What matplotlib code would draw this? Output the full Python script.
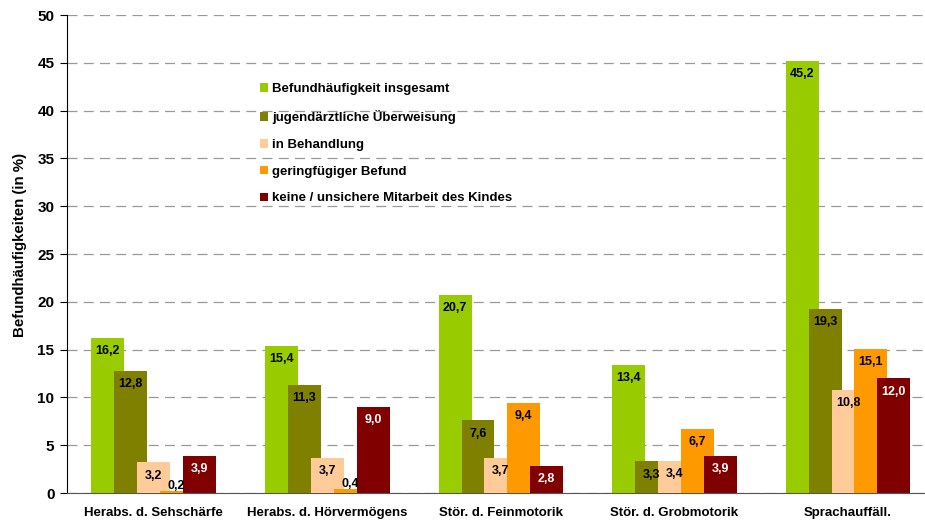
import matplotlib.pyplot as plt
import numpy as np
from matplotlib.patches import Patch

plt.rcParams['font.family'] = ['Liberation Sans', 'DejaVu Sans']

# Daten
kategorien = ['Herabs. d. Sehschärfe', 'Herabs. d. Hörvermögens', 'Stör. d. Feinmotorik',
              'Stör. d. Grobmotorik', 'Sprachauffäll.']
serien = ['Befundhäufigkeit insgesamt', 'jugendärztliche Überweisung', 'in Behandlung',
          'geringfügiger Befund', 'keine / unsichere Mitarbeit des Kindes']
insgesamt = [16.2, 15.4, 20.7, 13.4, 45.2]
ueberweisung = [12.8, 11.3, 7.6, 3.3, 19.3]
behandlung = [3.2, 3.7, 3.7, 3.4, 10.8]
geringfuegig = [0.2, 0.4, 9.4, 6.7, 15.1]
keine_mitarbeit = [3.9, 9.0, 2.8, 3.9, 12.0]

werte = [insgesamt, ueberweisung, behandlung, geringfuegig, keine_mitarbeit]
farben = ['#99CC00', '#808000', '#FFCC99', '#FF9900', '#800000']
textfarben = ['black', 'black', 'black', 'black', 'white']

fig = plt.figure(figsize=(9.25, 5.29), dpi=100)
ax = fig.add_axes([0.0724, 0.068, 0.927, 0.9036])

x = np.arange(len(kategorien))
schritt = 0.132
breite = 0.19

for i, (vals, col, tcol) in enumerate(zip(werte, farben, textfarben)):
    pos = x + (i - 2) * schritt
    ax.bar(pos, vals, width=breite, color=col, zorder=2 + i)
    for p, v in zip(pos, vals):
        txt = f'{v:.1f}'.replace('.', ',')
        if v < 1:
            ax.annotate(txt, (p, v), xytext=(0, 4), textcoords='offset points',
                        ha='center', va='center', fontsize=9, fontweight='bold',
                        color='black', zorder=20)
        else:
            ax.annotate(txt, (p, v), xytext=(0, -9.5), textcoords='offset points',
                        ha='center', va='center', fontsize=9, fontweight='bold',
                        color=tcol, zorder=20)

ax.set_xlim(-0.5, 4.44)
ax.set_ylim(0, 50)
ax.set_yticks(np.arange(0, 51, 5))
ax.yaxis.grid(True, linestyle=(0, (8, 5)), color='#999999', linewidth=0.9, zorder=0)
ax.set_axisbelow(True)

ax.set_xticks(x)
ax.set_xticklabels(kategorien, fontsize=9.5, fontweight='bold')
ax.tick_params(axis='x', length=0, pad=10)
ax.tick_params(axis='y', length=5, width=0.8, labelsize=11, pad=4)
for lab in ax.get_yticklabels():
    lab.set_fontweight('bold')

ax.spines['top'].set_visible(False)
ax.spines['right'].set_visible(False)
ax.spines['left'].set_color('black')
ax.spines['bottom'].set_color('#555555')

ax.set_ylabel('Befundhäufigkeiten (in %)', fontsize=10.8, fontweight='bold')
ax.yaxis.set_label_coords(-0.047, 0.52)

handles = [Patch(facecolor=c, edgecolor='none') for c in farben]
ax.legend(handles, serien, loc='upper left', bbox_to_anchor=(0.2115, 0.882),
          frameon=False, prop={'weight': 'bold', 'size': 9.5},
          handlelength=0.62, handleheight=0.62, handletextpad=0.3, labelspacing=1.12)

plt.savefig('out.png', dpi=100)
